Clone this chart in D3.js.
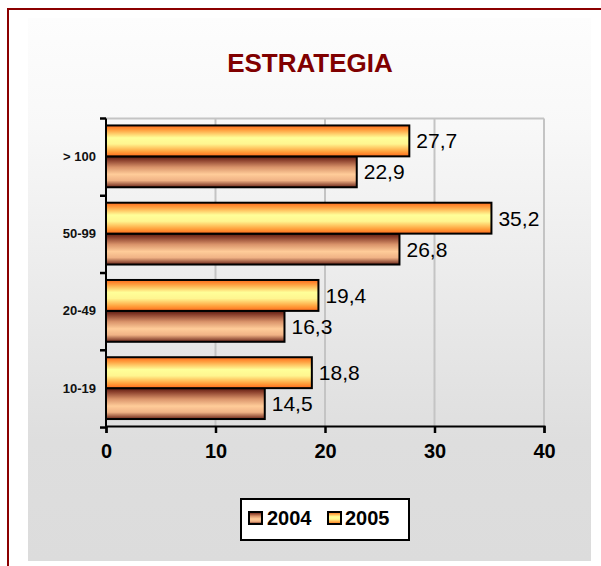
<!DOCTYPE html>
<html>
<head>
<meta charset="utf-8">
<script src="https://cdn.jsdelivr.net/npm/d3@7/dist/d3.min.js"></script>
<style>
  html, body { margin: 0; padding: 0; background: #ffffff; }
  svg { display: block; font-family: Arial, "Liberation Sans", sans-serif; }
</style>
</head>
<body>
<svg id="chart" width="601" height="566"></svg>
<script>
// Company-size groups, bottom to top as drawn
const categories = ["10-19", "20-49", "50-99", "> 100"];
const series = ["2004", "2005"];
const values2004 = [14.5, 16.3, 26.8, 22.9];
const values2005 = [18.8, 19.4, 35.2, 27.7];
const xTicks = [0, 10, 20, 30, 40];
const title = "ESTRATEGIA";

const svg = d3.select("#chart");
const defs = svg.append("defs");

// Panel background: near-white at the top fading to light grey
const bg = defs.append("linearGradient").attr("id", "bg")
  .attr("x1", 0).attr("y1", 0).attr("x2", 0).attr("y2", 1);
bg.append("stop").attr("offset", "0%").attr("stop-color", "#fdfdfd");
bg.append("stop").attr("offset", "20%").attr("stop-color", "#f8f8f8");
bg.append("stop").attr("offset", "78%").attr("stop-color", "#dedede");
bg.append("stop").attr("offset", "100%").attr("stop-color", "#dcdcdc");

// Bar fills: tube-like vertical gradients
const g04 = defs.append("linearGradient").attr("id", "g2004")
  .attr("x1", 0).attr("y1", 0).attr("x2", 0).attr("y2", 1);
[["0%", "#5a1a10"], ["12%", "#8a3f2c"], ["35%", "#d9936a"], ["58%", "#ffcc99"],
 ["78%", "#f0b285"], ["100%", "#6a2418"]]
  .forEach(([o, c]) => g04.append("stop").attr("offset", o).attr("stop-color", c));

const g05 = defs.append("linearGradient").attr("id", "g2005")
  .attr("x1", 0).attr("y1", 0).attr("x2", 0).attr("y2", 1);
[["0%", "#ff6a1a"], ["15%", "#ffa040"], ["40%", "#ffff99"], ["60%", "#fff590"],
 ["85%", "#ffa03c"], ["100%", "#ff6a1a"]]
  .forEach(([o, c]) => g05.append("stop").attr("offset", o).attr("stop-color", c));

const fills = { "2004": "url(#g2004)", "2005": "url(#g2005)" };

// Outer frame and panel
svg.append("rect").attr("x", 8).attr("y", 9).attr("width", 620).attr("height", 600)
  .attr("fill", "#ffffff").attr("stroke", "#8b0000").attr("stroke-width", 2);
svg.append("rect").attr("x", 28).attr("y", 18).attr("width", 563).attr("height", 543)
  .attr("fill", "url(#bg)");

// Title
svg.append("text").attr("x", 310).attr("y", 72).attr("text-anchor", "middle")
  .attr("font-size", 26).attr("font-weight", "bold").attr("fill", "#800000")
  .text(title);

// Scales
const plotL = 106, plotR = 544, plotT = 118.5, plotB = 426;
const x = d3.scaleLinear().domain([0, 40]).range([plotL, plotR]);
const y = d3.scaleBand().domain(categories).range([plotB, plotT])
  .paddingInner(0.2).paddingOuter(0.09);
const ySub = d3.scaleBand().domain(["2005", "2004"]).range([0, y.bandwidth()]);

// Gridlines and top border of plot area
const grid = svg.append("g");
grid.selectAll("line.v").data(xTicks.slice(1)).join("line")
  .attr("x1", d => x(d)).attr("x2", d => x(d))
  .attr("y1", plotT).attr("y2", plotB)
  .attr("stroke", "#c4c4c4").attr("stroke-width", 2);
grid.append("line").attr("x1", plotL).attr("x2", plotR).attr("y1", plotT).attr("y2", plotT)
  .attr("stroke", "#c4c4c4").attr("stroke-width", 2);

// Bars
const rows = categories.map((c, i) => ({ cat: c, "2004": values2004[i], "2005": values2005[i] }));
const groups = svg.append("g").selectAll("g").data(rows).join("g")
  .attr("transform", d => `translate(0,${y(d.cat)})`);

groups.selectAll("rect").data(d => series.map(s => ({ s, v: d[s] }))).join("rect")
  .attr("x", x(0))
  .attr("y", d => ySub(d.s))
  .attr("width", d => x(d.v) - x(0))
  .attr("height", ySub.bandwidth())
  .attr("fill", d => fills[d.s])
  .attr("stroke", "#000").attr("stroke-width", 2);

// Value labels
groups.selectAll("text").data(d => series.map(s => ({ s, v: d[s] }))).join("text")
  .attr("x", d => x(d.v) + 7)
  .attr("y", d => ySub(d.s) + ySub.bandwidth() / 2)
  .attr("dy", "0.36em")
  .attr("font-size", 21).attr("fill", "#000")
  .text(d => d3.format(".1f")(d.v).replace(".", ","));

// X axis
const xAxis = svg.append("g").attr("transform", `translate(0,${plotB})`)
  .call(d3.axisBottom(x).tickValues(xTicks).tickSize(7).tickPadding(11));
xAxis.select(".domain").attr("stroke", "#000").attr("stroke-width", 2);
xAxis.selectAll(".tick line").attr("stroke", "#000").attr("stroke-width", 2.5);
xAxis.selectAll(".tick text").attr("font-size", 20).attr("font-weight", "bold")
  .attr("fill", "#000").attr("font-family", "Arial, 'Liberation Sans', sans-serif");

// Y axis: line with ticks at group boundaries, labels at group centres
const yAxis = svg.append("g");
yAxis.append("line").attr("x1", plotL).attr("x2", plotL).attr("y1", plotT).attr("y2", plotB)
  .attr("stroke", "#000").attr("stroke-width", 2);
const boundaries = d3.range(categories.length + 1).map(i => plotT + i * y.step());
yAxis.selectAll("line.t").data(boundaries).join("line")
  .attr("x1", plotL - 6).attr("x2", plotL).attr("y1", d => d).attr("y2", d => d)
  .attr("stroke", "#000").attr("stroke-width", 2.5);
yAxis.selectAll("text").data(categories).join("text")
  .attr("x", 96).attr("y", d => y(d) + y.bandwidth() / 2).attr("dy", "0.35em")
  .attr("text-anchor", "end").attr("font-size", 13).attr("font-weight", "bold")
  .attr("fill", "#111").text(d => d);

// Legend
const legend = svg.append("g");
legend.append("rect").attr("x", 241).attr("y", 499).attr("width", 168).attr("height", 41)
  .attr("fill", "#fff").attr("stroke", "#000").attr("stroke-width", 2);
const items = [{ s: "2004", sx: 249, tx: 267 }, { s: "2005", sx: 328, tx: 345 }];
items.forEach(it => {
  legend.append("rect").attr("x", it.sx).attr("y", 512).attr("width", 13).attr("height", 12)
    .attr("fill", fills[it.s]).attr("stroke", "#000").attr("stroke-width", 2);
  legend.append("text").attr("x", it.tx).attr("y", 525)
    .attr("font-size", 20).attr("font-weight", "bold").attr("fill", "#000").text(it.s);
});
</script>
</body>
</html>
